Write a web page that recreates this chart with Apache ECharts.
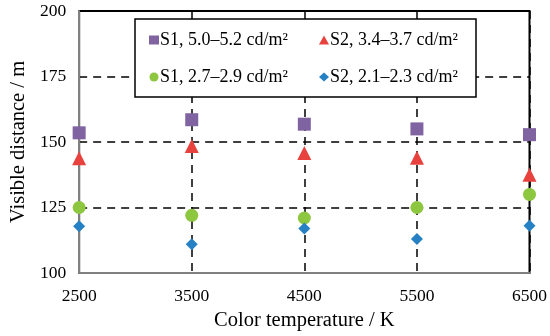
<!DOCTYPE html>
<html><head><meta charset="utf-8">
<script src="https://cdn.jsdelivr.net/npm/echarts@6/dist/echarts.min.js"></script>
<style>html,body{margin:0;padding:0;background:#fff}#c{width:550px;height:336px}</style>
</head><body><div id="c"></div>
<script>
const categories = ['2500','3500','4500','5500','6500'];
const s1High = [153.5, 158.5, 156.8, 155, 152.8];
const s2High = [143.8, 148.5, 145.8, 144, 137.5];
const s1Low = [125, 122, 121, 125, 130];
const s2Low = [117.8, 111, 117, 113, 118];
const seriesNames = ['S1, 5.0–5.2 cd/m²', 'S2, 3.4–3.7 cd/m²', 'S1, 2.7–2.9 cd/m²', 'S2, 2.1–2.3 cd/m²'];
const yTicks = {min: 100, max: 200, interval: 25};

const font = 'Liberation Serif';
const colors = ['#8064A2', '#E8423F', '#8DC63F', '#2581C4'];
const chart = echarts.init(document.getElementById('c'));
const mk = (name, data, symbol, size, color) => ({
  name, type: 'scatter', data, symbol, symbolSize: size,
  itemStyle: {color, opacity: 1}, z: 5
});
const legendCommon = {
  orient: 'vertical', itemGap: 19, padding: 0, z: 20,
  itemWidth: 10, itemHeight: 9,
  textStyle: {fontFamily: font, fontSize: 18, color: '#000', lineHeight: 18, padding: [0, 0, 0, -4]}
};
chart.setOption({
  animation: false,
  grid: {left: 76, right: 20, top: 11, bottom: 63, show: true, borderColor: '#000', borderWidth: 2, backgroundColor: 'transparent'},
  graphic: [{
    type: 'rect', z: 15, shape: {x: 135, y: 19, width: 341, height: 78},
    style: {fill: '#fff', stroke: '#000', lineWidth: 1.5}
  }],
  legend: [
    Object.assign({left: 149, top: 31, data: [seriesNames[0], seriesNames[2]]}, legendCommon),
    Object.assign({left: 319, top: 31, data: [seriesNames[1], seriesNames[3]]}, legendCommon)
  ],
  xAxis: {
    type: 'category', data: categories, boundaryGap: false,
    axisLine: {lineStyle: {color: '#808080', width: 2}},
    axisTick: {show: false},
    axisLabel: {fontFamily: font, fontSize: 17.5, color: '#000', margin: 14},
    splitLine: {show: true, lineStyle: {color: '#000', type: [8, 6], width: 1.5}},
    name: 'Color temperature / K', nameLocation: 'middle', nameGap: 33,
    nameTextStyle: {fontFamily: font, fontSize: 20.5, color: '#000'}
  },
  yAxis: {
    type: 'value', min: yTicks.min, max: yTicks.max, interval: yTicks.interval,
    axisLine: {show: true, lineStyle: {color: '#808080', width: 2}},
    axisTick: {show: false},
    axisLabel: {fontFamily: font, fontSize: 17.5, color: '#000', margin: 13},
    splitLine: {show: true, lineStyle: {color: '#000', type: [8, 6], width: 1.5}},
    name: 'Visible distance / m', nameLocation: 'middle', nameGap: 45,
    nameTextStyle: {fontFamily: font, fontSize: 20.5, color: '#000'}
  },
  series: [
    mk(seriesNames[0], s1High, 'rect', 13, colors[0]),
    mk(seriesNames[1], s2High, 'triangle', 14, colors[1]),
    mk(seriesNames[2], s1Low, 'circle', 13, colors[2]),
    mk(seriesNames[3], s2Low, 'diamond', 12, colors[3])
  ]
});
</script></body></html>
